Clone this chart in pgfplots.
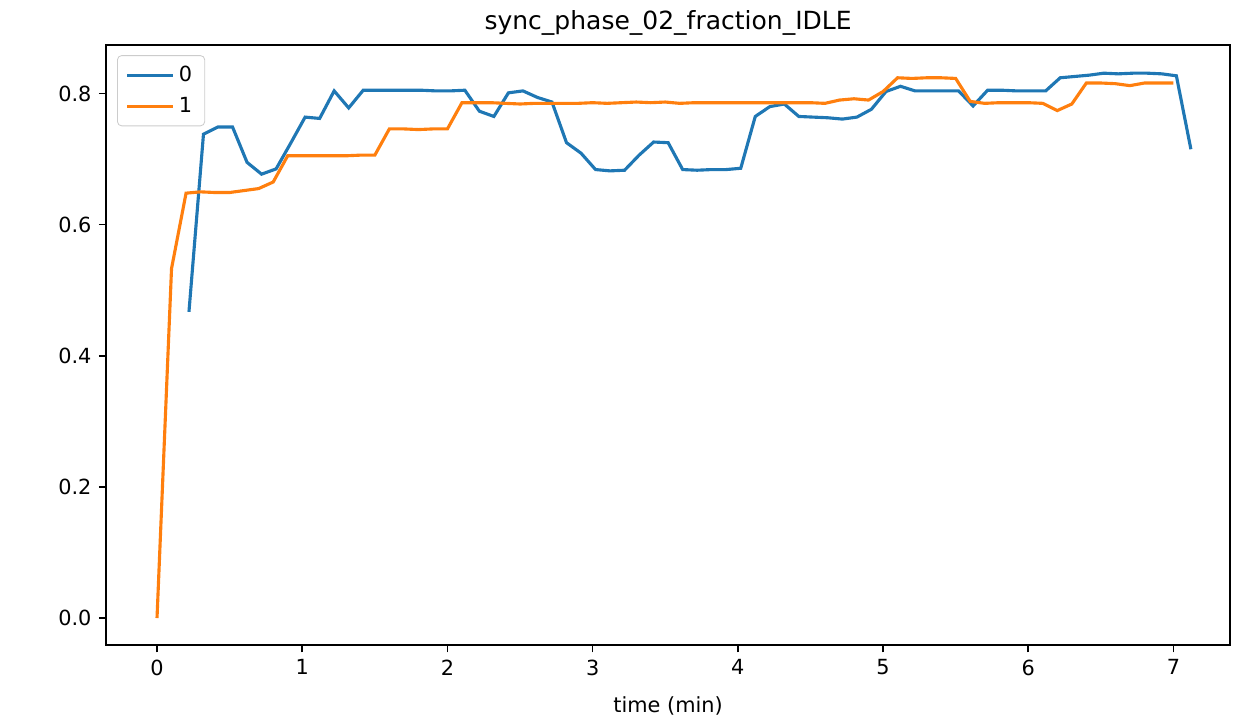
\documentclass[border=0pt]{standalone}
\usepackage{pgfplots}
\pgfplotsset{compat=1.18}
\usepackage{fontspec}
\setmainfont{DejaVu Sans}
\definecolor{mplblue}{HTML}{1F77B4}
\definecolor{mplorange}{HTML}{FF7F0E}
\begin{document}
\begin{tikzpicture}
\path[use as bounding box] (-50.9pt,-34.6pt) rectangle (545.7pt,309.6pt);
\begin{axis}[
  scale only axis,
  width=539.5pt, height=288pt,
  xmin=-0.351, xmax=7.39,
  ymin=-0.0412, ymax=0.874,
  axis line style={line width=0.8pt},
  tick align=outside,
  xtick pos=left, ytick pos=left,
  major tick length=3.5pt,
  tick style={line width=0.8pt, black},
  xtick={0,1,2,3,4,5,6,7},
  ytick={0,0.2,0.4,0.6,0.8},
  yticklabel style={/pgf/number format/.cd, fixed, fixed zerofill, precision=1},
  /pgf/number format/assume math mode=true,
  ticklabel style={font=\fontsize{10}{12}\selectfont},
  xlabel={time (min)},
  xlabel style={font=\fontsize{10}{12}\selectfont, yshift=-3.5pt},
  title={sync\_phase\_02\_fraction\_IDLE},
  title style={font=\fontsize{12}{14}\selectfont, yshift=-5pt},
  legend style={at={(0.0098,0.983)}, anchor=north west, draw=black!20, rounded corners=2pt, fill=white, fill opacity=0.8, text opacity=1, font=\fontsize{10}{12}\selectfont, inner xsep=4pt, inner ysep=3pt, row sep=2pt},
  legend cell align=left,
  legend image code/.code={\draw[#1, line width=1.5pt] (0pt,0pt) -- (22pt,0pt);},
]
\addplot[mplblue, line width=1.5pt] coordinates {
(0.22,0.467) (0.32,0.738) (0.42,0.749) (0.52,0.749) (0.62,0.695) (0.72,0.677)
(0.82,0.685) (0.92,0.724) (1.02,0.764) (1.12,0.762) (1.22,0.804) (1.32,0.778)
(1.42,0.805) (1.52,0.805) (1.62,0.805) (1.72,0.805) (1.82,0.805) (1.92,0.804)
(2.02,0.804) (2.12,0.805) (2.22,0.773) (2.32,0.765) (2.42,0.801) (2.52,0.804)
(2.62,0.794) (2.72,0.787) (2.82,0.725) (2.92,0.709) (3.02,0.684) (3.12,0.682)
(3.22,0.683) (3.32,0.706) (3.42,0.726) (3.52,0.725) (3.62,0.684) (3.72,0.683)
(3.82,0.684) (3.92,0.684) (4.02,0.686) (4.12,0.765) (4.22,0.780) (4.32,0.784)
(4.42,0.765) (4.52,0.764) (4.62,0.763) (4.72,0.761) (4.82,0.764) (4.92,0.776)
(5.02,0.803) (5.12,0.811) (5.22,0.804) (5.32,0.804) (5.42,0.804) (5.52,0.804)
(5.62,0.781) (5.72,0.805) (5.82,0.805) (5.92,0.804) (6.02,0.804) (6.12,0.804)
(6.22,0.824) (6.32,0.826) (6.42,0.828) (6.52,0.831) (6.62,0.830) (6.72,0.831)
(6.82,0.831) (6.92,0.830) (7.02,0.827) (7.12,0.715)
};
\addlegendentry{0}
\addplot[mplorange, line width=1.5pt] coordinates {
(0.0,0.0) (0.1,0.533) (0.2,0.648) (0.3,0.650) (0.4,0.649) (0.5,0.649)
(0.6,0.652) (0.7,0.655) (0.8,0.665) (0.9,0.705) (1.0,0.705) (1.1,0.705)
(1.2,0.705) (1.3,0.705) (1.4,0.706) (1.5,0.706) (1.6,0.746) (1.7,0.746)
(1.8,0.745) (1.9,0.746) (2.0,0.746) (2.1,0.786) (2.2,0.786) (2.3,0.786)
(2.4,0.785) (2.5,0.784) (2.6,0.785) (2.7,0.785) (2.8,0.785) (2.9,0.785)
(3.0,0.786) (3.1,0.785) (3.2,0.786) (3.3,0.787) (3.4,0.786) (3.5,0.787)
(3.6,0.785) (3.7,0.786) (3.8,0.786) (3.9,0.786) (4.0,0.786) (4.1,0.786)
(4.2,0.786) (4.3,0.786) (4.4,0.786) (4.5,0.786) (4.6,0.785) (4.7,0.790)
(4.8,0.792) (4.9,0.790) (5.0,0.803) (5.1,0.824) (5.2,0.823) (5.3,0.824)
(5.4,0.824) (5.5,0.823) (5.6,0.788) (5.7,0.785) (5.8,0.786) (5.9,0.786)
(6.0,0.786) (6.1,0.785) (6.2,0.774) (6.3,0.784) (6.4,0.816) (6.5,0.816)
(6.6,0.815) (6.7,0.812) (6.8,0.816) (6.9,0.816) (7.0,0.816)
};
\addlegendentry{1}
\end{axis}
\end{tikzpicture}
\end{document}
